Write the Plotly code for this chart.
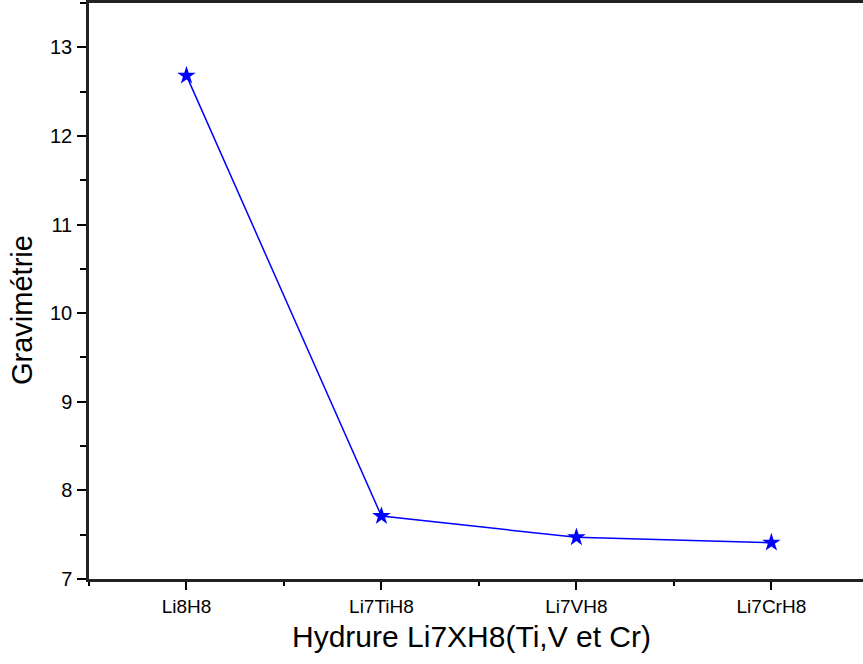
import plotly.graph_objects as go

categories = ["Li8H8", "Li7TiH8", "Li7VH8", "Li7CrH8"]
gravimetrie = [12.68, 7.71, 7.47, 7.41]
y_ticks = [7, 8, 9, 10, 11, 12, 13]

positions = list(range(len(categories)))

font_family = "Liberation Sans, Arial, sans-serif"

fig = go.Figure()
fig.add_trace(go.Scatter(
    x=positions,
    y=gravimetrie,
    mode="lines+markers",
    line=dict(color="#0000ff", width=1.5),
    marker=dict(symbol="star", size=14, color="#0000ff"),
    showlegend=False,
))

fig.update_layout(
    width=863,
    height=664,
    margin=dict(l=89, r=0, t=3, b=85),
    paper_bgcolor="white",
    plot_bgcolor="white",
    font=dict(family=font_family, color="black"),
)

fig.update_xaxes(
    range=[-0.5, 3.47],
    tickmode="array",
    tickvals=positions,
    ticktext=categories,
    tickfont=dict(size=19, family=font_family),
    ticks="outside",
    ticklen=8,
    tickwidth=2,
    tickcolor="black",
    showline=True,
    linewidth=2.5,
    linecolor="#222222",
    mirror=True,
    showgrid=False,
    zeroline=False,
    minor=dict(ticks="outside", ticklen=4, tickwidth=2, tickcolor="black", dtick=0.5, tick0=-0.5, showgrid=False),
)

fig.update_yaxes(
    range=[7, 13.5],
    tickmode="array",
    tickvals=y_ticks,
    tickfont=dict(size=20, family=font_family),
    ticks="outside",
    ticklen=9,
    tickwidth=2,
    tickcolor="black",
    ticklabelstandoff=1,
    showline=True,
    linewidth=2.5,
    linecolor="#222222",
    mirror=False,
    showgrid=False,
    zeroline=False,
    minor=dict(ticks="outside", ticklen=6, tickwidth=2, tickcolor="black", dtick=0.5, tick0=7, showgrid=False),
)

fig.add_annotation(
    text="Hydrure Li7XH8(Ti,V et Cr)",
    xref="paper", yref="paper",
    x=0.5, y=-0.1,
    xanchor="center", yanchor="middle",
    showarrow=False,
    font=dict(size=30, family=font_family, color="black"),
    xshift=-5, yshift=0,
)

fig.add_annotation(
    text="Gravimétrie",
    xref="paper", yref="paper",
    x=0, y=0.5,
    xanchor="center", yanchor="middle",
    textangle=-90,
    showarrow=False,
    font=dict(size=29, family=font_family, color="black"),
    xshift=-67, yshift=-19,
)

fig.write_html("out.html")
